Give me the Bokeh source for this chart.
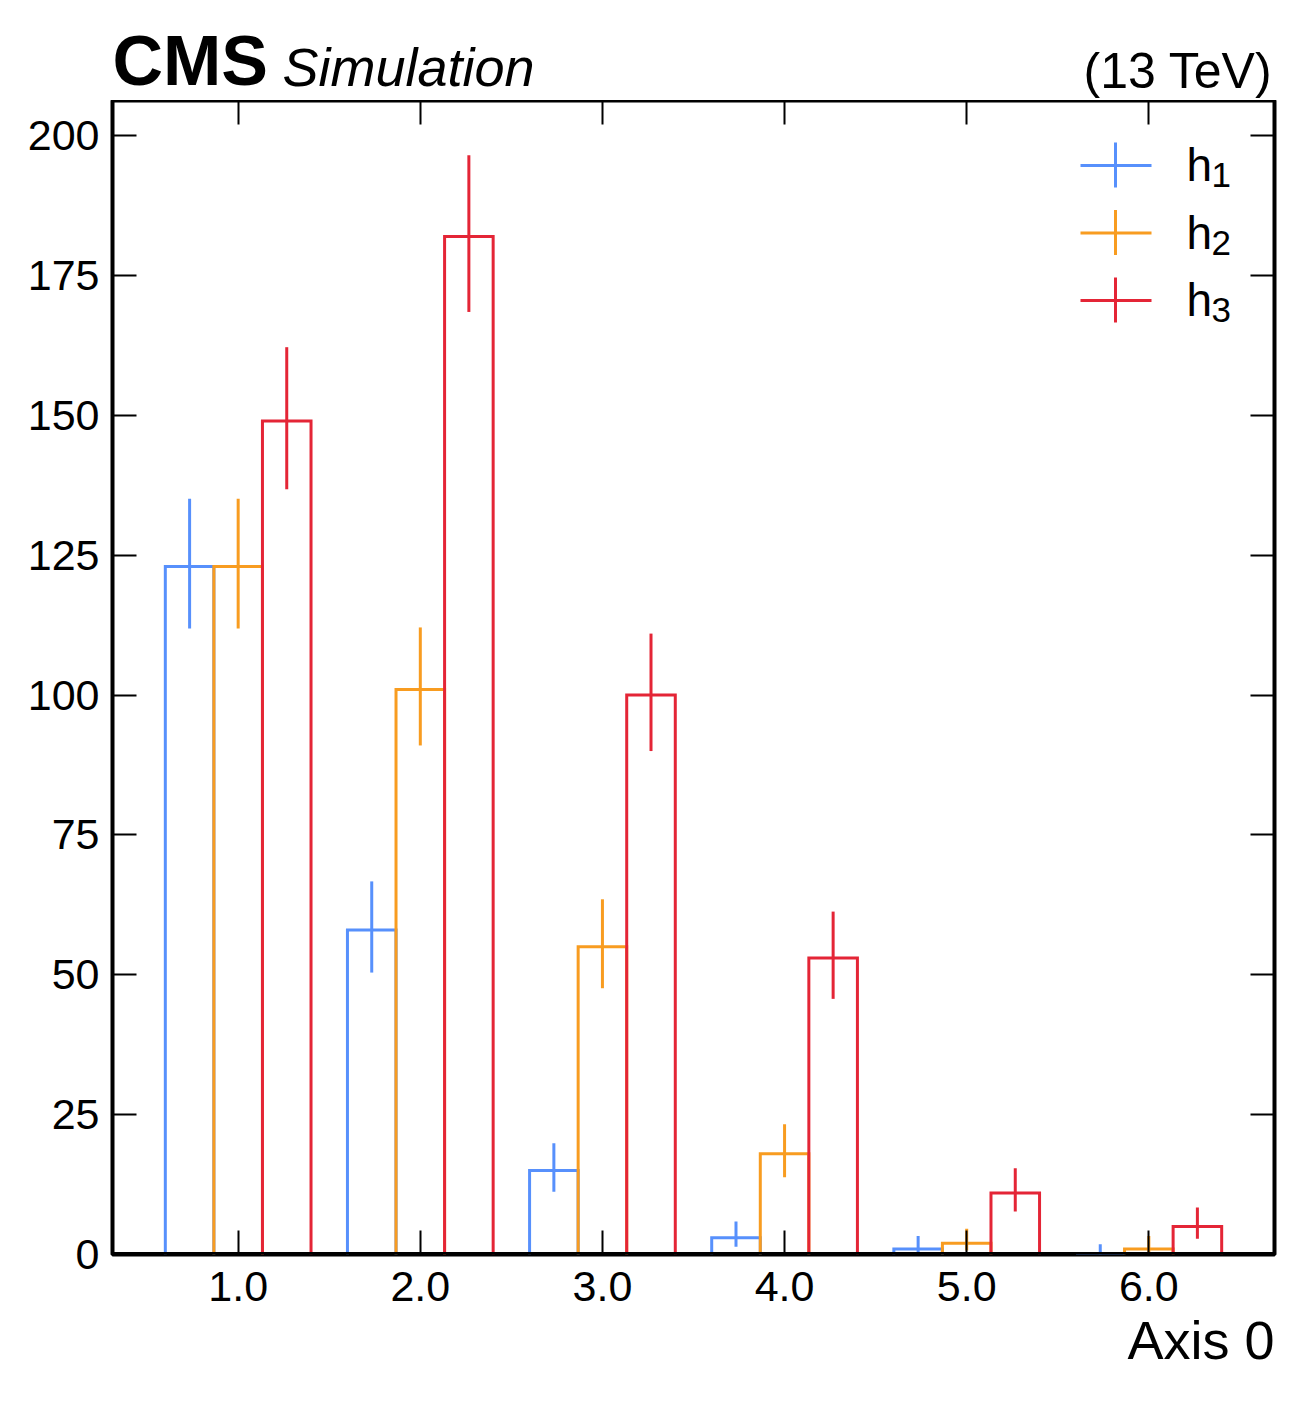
from bokeh.plotting import figure
from bokeh.layouts import column
from bokeh.models import Range1d, FixedTicker, LinearAxis, Label, NumeralTickFormatter, Title, Span
from bokeh.core.properties import value
from bokeh.embed import file_html
from bokeh.resources import INLINE

# ---------------- data ----------------
bin_centers = [1.0, 2.0, 3.0, 4.0, 5.0, 6.0]
names = ["h", "h", "h"]
subs = ["1", "2", "3"]
colors = ["#5790fc", "#f89c20", "#e42536"]

h1 = [123, 58, 15, 3, 1, 0]
h1_lo = [11.1, 7.6, 3.8, 1.6, 0.83, 0.0]
h1_hi = [12.1, 8.7, 4.9, 2.9, 2.3, 1.84]

h2 = [123, 101, 55, 18, 2, 1]
h2_lo = [11.1, 10.0, 7.4, 4.2, 1.3, 0.83]
h2_hi = [12.1, 11.1, 8.5, 5.3, 2.6, 2.3]

h3 = [149, 182, 100, 53, 11, 5]
h3_lo = [12.2, 13.5, 10.0, 7.3, 3.3, 2.2]
h3_hi = [13.2, 14.5, 11.0, 8.3, 4.4, 3.4]

series = [(h1, h1_lo, h1_hi), (h2, h2_lo, h2_hi), (h3, h3_lo, h3_hi)]

x_ticks = [1, 2, 3, 4, 5, 6]
y_ticks = [0, 25, 50, 75, 100, 125, 150, 175, 200]

bin_width = 1.0
group_frac = 0.8
n_series = len(series)

# ---------------- layout ----------------
FW, FH = 1162, 1154
HEAD = 100
LEFT, RIGHT = 112, 14
X0, X1 = 0.31, 6.69
Y0, Y1 = 0.0, 206.3
FONT = "Liberation Sans"
MID = 0.35  # distance (in em) from the alphabetic baseline up to the text middle

# header with the CMS texts
head = figure(frame_width=FW, frame_height=HEAD,
              x_range=Range1d(0, FW), y_range=Range1d(0, HEAD),
              output_backend="svg", toolbar_location=None,
              min_border_left=LEFT, min_border_right=RIGHT,
              min_border_top=0, min_border_bottom=0,
              background_fill_color="white", border_fill_color="white")
head.axis.visible = False
head.grid.visible = False
head.outline_line_color = None
head.text(x=[0], y=[15 + MID * 70], text=["CMS"], text_font=value(FONT),
          text_font_style="bold", text_font_size="70px", text_color="black",
          text_baseline="middle")
head.text(x=[170], y=[15 + MID * 54], text=["Simulation"], text_font=value(FONT),
          text_font_style="italic", text_font_size="54px", text_color="black",
          text_baseline="middle")
head.text(x=[FW - 2], y=[12 + MID * 50], text=["(13 TeV)"], text_font=value(FONT),
          text_font_size="50px", text_color="black", text_align="right",
          text_baseline="middle")

p = figure(frame_width=FW, frame_height=FH,
           x_range=Range1d(X0, X1), y_range=Range1d(Y0, Y1),
           output_backend="svg", toolbar_location=None,
           min_border_left=LEFT, min_border_top=0,
           min_border_right=RIGHT, min_border_bottom=138,
           background_fill_color="white", border_fill_color="white")
p.grid.visible = False
p.outline_line_color = "black"
p.outline_line_width = 4

def style_axis(ax, labels=True):
    ax.axis_line_color = None
    ax.major_tick_in = 24
    ax.major_tick_out = 0
    ax.major_tick_line_width = 2
    ax.major_tick_line_color = "black"
    ax.minor_tick_line_color = None
    ax.major_label_text_font = FONT
    ax.major_label_text_font_size = "43px"
    ax.major_label_text_color = "black"
    if not labels:
        ax.major_label_text_font_size = "0px"
        ax.major_label_text_color = None
        ax.major_label_standoff = 0

p.xaxis.ticker = FixedTicker(ticks=x_ticks)
p.xaxis.formatter = NumeralTickFormatter(format="0.0")
p.yaxis.ticker = FixedTicker(ticks=y_ticks)
style_axis(p.xaxis[0])
style_axis(p.yaxis[0])
p.xaxis.major_label_standoff = 17
p.yaxis.major_label_standoff = 13

top = LinearAxis(ticker=FixedTicker(ticks=x_ticks))
style_axis(top, labels=False)
p.add_layout(top, "above")
right = LinearAxis(ticker=FixedTicker(ticks=y_ticks))
style_axis(right, labels=False)
p.add_layout(right, "right")

p.add_layout(Title(text="Axis 0", align="right", text_font=FONT, text_font_size="54px",
                   text_font_style="normal", text_color="black", standoff=9), "below")

# ---------------- histograms ----------------
sub_w = bin_width * group_frac / n_series
for k, ((vals, lo, hi), col) in enumerate(zip(series, colors)):
    xs, ys = [], []
    cx, ylo, yhi = [], [], []
    for c, v, el, eh in zip(bin_centers, vals, lo, hi):
        left = c - bin_width * group_frac / 2 + k * sub_w
        right_e = left + sub_w
        xs.append([left, left, right_e, right_e])
        ys.append([0, v, v, 0])
        cx.append(left + sub_w / 2)
        ylo.append(v - el)
        yhi.append(v + eh)
    p.multi_line(xs, ys, line_color=col, line_width=3, line_join="miter")
    p.segment(x0=cx, y0=ylo, x1=cx, y1=yhi, line_color=col, line_width=3)

# bottom frame line drawn above the data (like matplotlib spines)
p.add_layout(Span(location=0, dimension="width", line_color="black", line_width=5,
                  level="overlay"))

# ---------------- legend (manual) ----------------
def px_x(px):  # frame-relative pixel -> data x
    return X0 + px / FW * (X1 - X0)

def px_y(py):  # frame-relative pixel from top -> data y
    return Y1 - py / FH * (Y1 - Y0)

for i, col in enumerate(colors):
    yc = 65 + i * 67.5
    p.segment(x0=[px_x(968)], y0=[px_y(yc)], x1=[px_x(1039)], y1=[px_y(yc)],
              line_color=col, line_width=3)
    p.segment(x0=[px_x(1003)], y0=[px_y(yc - 23)], x1=[px_x(1003)], y1=[px_y(yc + 22)],
              line_color=col, line_width=3)
    p.add_layout(Label(x=1074, y=FH - (yc + 16) + MID * 46, x_units="screen",
                       y_units="screen", text=names[i], text_font=FONT,
                       text_font_size="46px", text_color="black", text_baseline="middle"))
    p.add_layout(Label(x=1099, y=FH - (yc + 22) + MID * 35, x_units="screen",
                       y_units="screen", text=subs[i], text_font=FONT,
                       text_font_size="35px", text_color="black", text_baseline="middle"))

layout = column(head, p, spacing=0)
open("out.html", "w").write(file_html(layout, INLINE))
